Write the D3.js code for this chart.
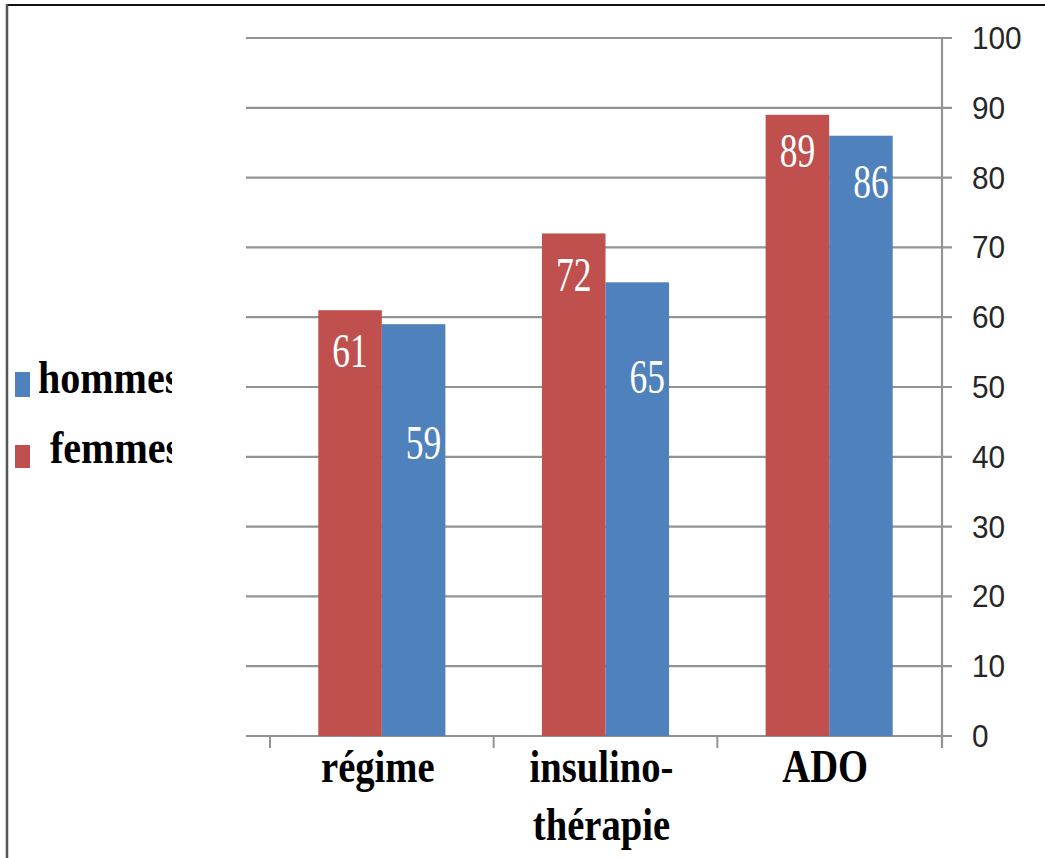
<!DOCTYPE html>
<html>
<head>
<meta charset="utf-8">
<script src="https://cdn.jsdelivr.net/npm/d3@7"></script>
<style>
  html, body { margin: 0; padding: 0; background: #fff; }
  svg { display: block; }
</style>
</head>
<body>
<svg id="chart" width="1045" height="858"></svg>
<script>
// Treatment categories (label lines) and percentages by sex
const categories = ["régime", "insulino-thérapie", "ADO"];
const categoryLines = [["régime"], ["insulino-", "thérapie"], ["ADO"]];
const series = ["femmes", "hommes"];
const femmes = [61, 72, 89];
const hommes = [59, 65, 86];
const yTicks = [0, 10, 20, 30, 40, 50, 60, 70, 80, 90, 100];
const legendOrder = ["hommes", "femmes"];

const colors = { femmes: "#C0504D", hommes: "#4F81BD" };
// vertical drop of each value label below the top of its bar (px)
const labelDrop = { femmes: [41, 42, 36], hommes: [119, 95, 46] };

const svg = d3.select("#chart");
const values = { femmes, hommes };

const x = d3.scaleBand().domain(categories).range([270, 941]).paddingInner(0).paddingOuter(0);
const x1 = d3.scaleBand().domain(series).range([0, x.bandwidth()]).paddingOuter(0.76).paddingInner(0);
const y = d3.scaleLinear().domain([0, 100]).range([736, 38]);

const gridColor = "#939393";

// frame
svg.append("line").attr("x1", 6).attr("x2", 1045).attr("y1", 5).attr("y2", 5)
  .attr("stroke", "#111").attr("stroke-width", 2);
svg.append("line").attr("x1", 7).attr("x2", 7).attr("y1", 4).attr("y2", 858)
  .attr("stroke", "#555").attr("stroke-width", 2.5);

// horizontal gridlines with tick stubs past the right axis
svg.append("g").selectAll("line").data(yTicks).join("line")
  .attr("x1", 246).attr("x2", 952)
  .attr("y1", d => y(d)).attr("y2", d => y(d))
  .attr("stroke", gridColor).attr("stroke-width", 2.2);

// right value axis
svg.append("line").attr("x1", 942).attr("x2", 942).attr("y1", y(100)).attr("y2", 748)
  .attr("stroke", gridColor).attr("stroke-width", 2.2);

// category ticks below the baseline
const catTicks = categories.map(c => x(c));
svg.append("g").selectAll("line").data(catTicks).join("line")
  .attr("x1", d => d).attr("x2", d => d).attr("y1", y(0)).attr("y2", 748)
  .attr("stroke", gridColor).attr("stroke-width", 2);

// y tick labels
svg.append("g").selectAll("text").data(yTicks).join("text")
  .attr("transform", d => `translate(972,${y(d) + 11}) scale(0.96,1)`)
  .attr("font-family", "Liberation Sans, Arial, sans-serif")
  .attr("font-size", 31)
  .attr("fill", "#262626")
  .text(d => d);

// bars
const rows = [];
categories.forEach((c, i) => series.forEach(s => rows.push({ c, i, s, v: values[s][i] })));

svg.append("g").selectAll("rect").data(rows).join("rect")
  .attr("x", d => x(d.c) + x1(d.s))
  .attr("width", x1.bandwidth())
  .attr("y", d => y(d.v))
  .attr("height", d => y(0) - y(d.v))
  .attr("fill", d => colors[d.s]);

// value labels inside bars
svg.append("g").selectAll("text").data(rows).join("text")
  .attr("transform", d => {
    const left = x(d.c) + x1(d.s);
    const tx = d.s === "femmes" ? left + x1.bandwidth() / 2 : left + x1.bandwidth() - 4;
    const ty = y(d.v) + labelDrop[d.s][d.i] + 16;
    return `translate(${tx},${ty}) scale(0.74,1)`;
  })
  .attr("text-anchor", d => d.s === "femmes" ? "middle" : "end")
  .attr("font-family", "Liberation Serif, Times New Roman, serif")
  .attr("font-size", 48)
  .attr("fill", "#fff")
  .text(d => d.v);

// category labels
const catG = svg.append("g").selectAll("g").data(categories).join("g");
catG.each(function (c, i) {
  const g = d3.select(this);
  categoryLines[i].forEach((line, k) => {
    g.append("text")
      .attr("transform", `translate(${x(c) + x.bandwidth() / 2 - 4},${782 + k * 58}) scale(0.84,1)`)
      .attr("text-anchor", "middle")
      .attr("font-family", "Liberation Serif, Times New Roman, serif")
      .attr("font-weight", "bold")
      .attr("font-size", 46)
      .attr("fill", "#000")
      .text(line);
  });
});

// legend (clipped on its right edge)
svg.append("defs").append("clipPath").attr("id", "legendClip")
  .append("rect").attr("x", 0).attr("y", 300).attr("width", 172).attr("height", 250);

const legendPos = { hommes: { sy: 372, sh: 25, tx: 38, base: 393 },
                    femmes: { sy: 445, sh: 23, tx: 50, base: 463 } };
const leg = svg.append("g").attr("clip-path", "url(#legendClip)");
legendOrder.forEach(s => {
  const p = legendPos[s];
  leg.append("rect").attr("x", 15).attr("y", p.sy).attr("width", 15).attr("height", p.sh)
    .attr("fill", colors[s]);
  leg.append("text")
    .attr("transform", `translate(${p.tx},${p.base}) scale(0.87,1)`)
    .attr("font-family", "Liberation Serif, Times New Roman, serif")
    .attr("font-weight", "bold")
    .attr("font-size", 46)
    .attr("fill", "#000")
    .text(s);
});
</script>
</body>
</html>
